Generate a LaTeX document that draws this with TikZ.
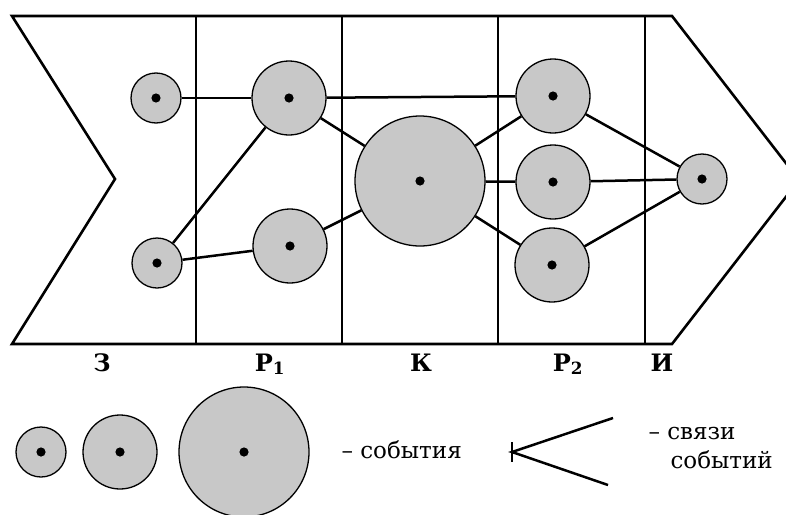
\documentclass[tikz,border=0pt]{standalone}
\usepackage{fontspec}
\setmainfont{DejaVu Serif}
\definecolor{eventgray}{RGB}{200, 200, 200}
\usetikzlibrary{positioning, calc}

\tikzset{
  event/.style={circle, draw=black, line width=1.3pt, fill=eventgray, inner sep=0pt,
    path picture={\fill[black] (path picture bounding box.center) circle (4.6pt);}},
  small/.style={event, minimum size=50pt},
  mid/.style={event, minimum size=74pt},
  big/.style={event, minimum size=130pt},
  link/.style={line width=2.5pt},
  frame/.style={line width=2.6pt, line join=miter},
  stage/.style={font=\fontsize{24}{28}\selectfont\bfseries, anchor=base},
  legend/.style={font=\fontsize{23}{28}\selectfont, anchor=base west}
}

\begin{document}
\begin{tikzpicture}[x=1pt, y=-1pt]
  \useasboundingbox (0, 0) rectangle (786, 514);

  \draw[frame] (12, 16) -- (672, 16) -- (799, 180) -- (672, 344) -- (12, 344) -- (115, 179) -- cycle;
  \foreach \x in {196, 342, 498, 645} {
    \draw[frame] (\x, 16) -- (\x, 344);
  }

  \node[small] (z1) at (156, 98) {};
  \node[small] (z2) at (157, 263) {};
  \node[mid] (r11) at (289, 98) {};
  \node[mid] (r12) at (290, 246) {};
  \node[big] (k) at (420, 181) {};
  \node[mid] (r21) at (553, 96) {};
  \node[mid] (r22) at (553, 182) {};
  \node[mid] (r23) at (552, 265) {};
  \node[small] (i) at (702, 179) {};

  \draw[link] (z1) -- (r11);
  \draw[link] (z2) -- (r11);
  \draw[link] (z2) -- (r12);
  \draw[link] (r11) -- (r21);
  \draw[link] (r11) -- (k);
  \draw[link] (r12) -- (k);
  \draw[link] (k) -- (r21);
  \draw[link] (k) -- (r22);
  \draw[link] (k) -- (r23);
  \draw[link] (r21) -- (i);
  \draw[link] (r22) -- (i);
  \draw[link] (r23) -- (i);

  \node[stage] (lz) at (102, 371) {З};
  \node[stage] (lr1) at (270, 371) {Р\textsubscript{1}};
  \node[stage] (lk) at (421, 371) {К};
  \node[stage] (lr2) at (568, 371) {Р\textsubscript{2}};
  \node[stage] (li) at (662, 371) {И};

  \node[small] (legsmall) at (41, 452) {};
  \node[mid] (legmid) at (120, 452) {};
  \node[big] (legbig) at (244, 452) {};
  \node[legend] (legev) at (338, 458) {– события};

  \coordinate (root) at (512, 452);
  \coordinate (up) at (613, 418);
  \coordinate (down) at (608, 485);
  \draw[link] (up) -- (root) -- (down);
  \draw[link] ($(root) + (0, -10)$) -- ($(root) + (0, 10)$);
  \node[legend] (leglink1) at (645, 439) {– связи};
  \node[legend] (leglink2) at (667, 468) {событий};
\end{tikzpicture}
\end{document}
